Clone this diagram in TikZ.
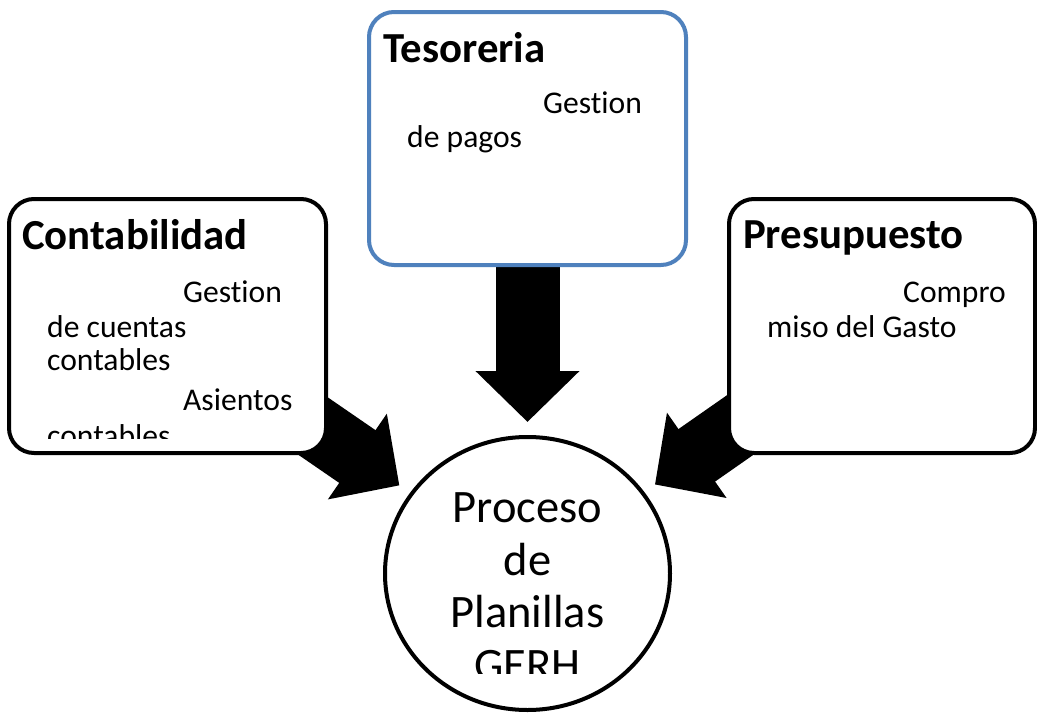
\documentclass[tikz,border=0pt]{standalone}
\usepackage{fontspec}
\setmainfont[RawFeature={-liga;-clig;-dlig}]{Carlito}
\usetikzlibrary{shapes.geometric,arrows.meta,backgrounds}
\definecolor{boxblue}{RGB}{79,129,189}
\begin{document}
\begin{tikzpicture}[x=1pt,y=-1pt,
  box/.style={draw=black,fill=white,line width=4pt,rounded corners=25pt,inner sep=0pt},
  bigarrow/.style={draw=black,line width=64pt,-{Triangle[width=101pt,length=51pt]},shorten >=13pt},
  title/.style={anchor=base west,inner sep=0pt,font=\fontsize{42.8}{50}\selectfont\bfseries},
  body/.style={anchor=base west,inner sep=0pt,font=\fontsize{31.6}{37}\selectfont},
  big/.style={anchor=base,inner sep=0pt,font=\fontsize{46.5}{53}\selectfont}]
\useasboundingbox (0,0) rectangle (1037,715);
% boxes
\node[box,draw=boxblue,minimum width=317pt,minimum height=253pt] (tes) at (527.5,138.5) {};
\node[box,minimum width=317pt,minimum height=254pt] (cont) at (167.5,326) {};
\node[box,minimum width=306pt,minimum height=254pt] (pres) at (882,326) {};
\node[ellipse,draw=black,fill=white,line width=4pt,inner sep=0pt,minimum width=285pt,minimum height=273pt] (proc) at (527.5,573.5) {};
% arrows
\begin{scope}[on background layer]
\fill[white] (0,0) rectangle (1037,715);
\draw[bigarrow] (tes.center) -- (proc);
\draw[bigarrow] (cont.center) -- (proc);
\draw[bigarrow] (pres.center) -- (proc);
\end{scope}
% Tesoreria
\node[title] (tesT) at (383,62) {Tesoreria};
\node[body] (tes1) at (543,113) {Gestion};
\node[body] (tes2) at (407,147) {de pagos};
% Contabilidad
\node[title] (contT) at (22,249) {Contabilidad};
\begin{scope}
\clip (9,199) rectangle (326,438);
\node[body] (cont1) at (183,302) {Gestion};
\node[body] (cont2) at (47,337) {de cuentas};
\node[body] (cont3) at (47,370) {contables};
\node[body] (cont4) at (183,410) {Asientos};
\node[body] (cont5) at (47,446) {contables};
\end{scope}
% Presupuesto
\node[title] (presT) at (743,248) {Presupuesto};
\node[body] (pres1) at (903,302) {Compro};
\node[body] (pres2) at (767,337) {miso del Gasto};
% Proceso
\begin{scope}
\clip (380,430) rectangle (680,673);
\node[big] (p1) at (527.5,522) {Proceso};
\node[big] (p2) at (527.5,575) {de};
\node[big] (p3) at (527.5,627) {Planillas};
\node[big] (p4) at (527.5,680) {GERH};
\end{scope}
\end{tikzpicture}
\end{document}
